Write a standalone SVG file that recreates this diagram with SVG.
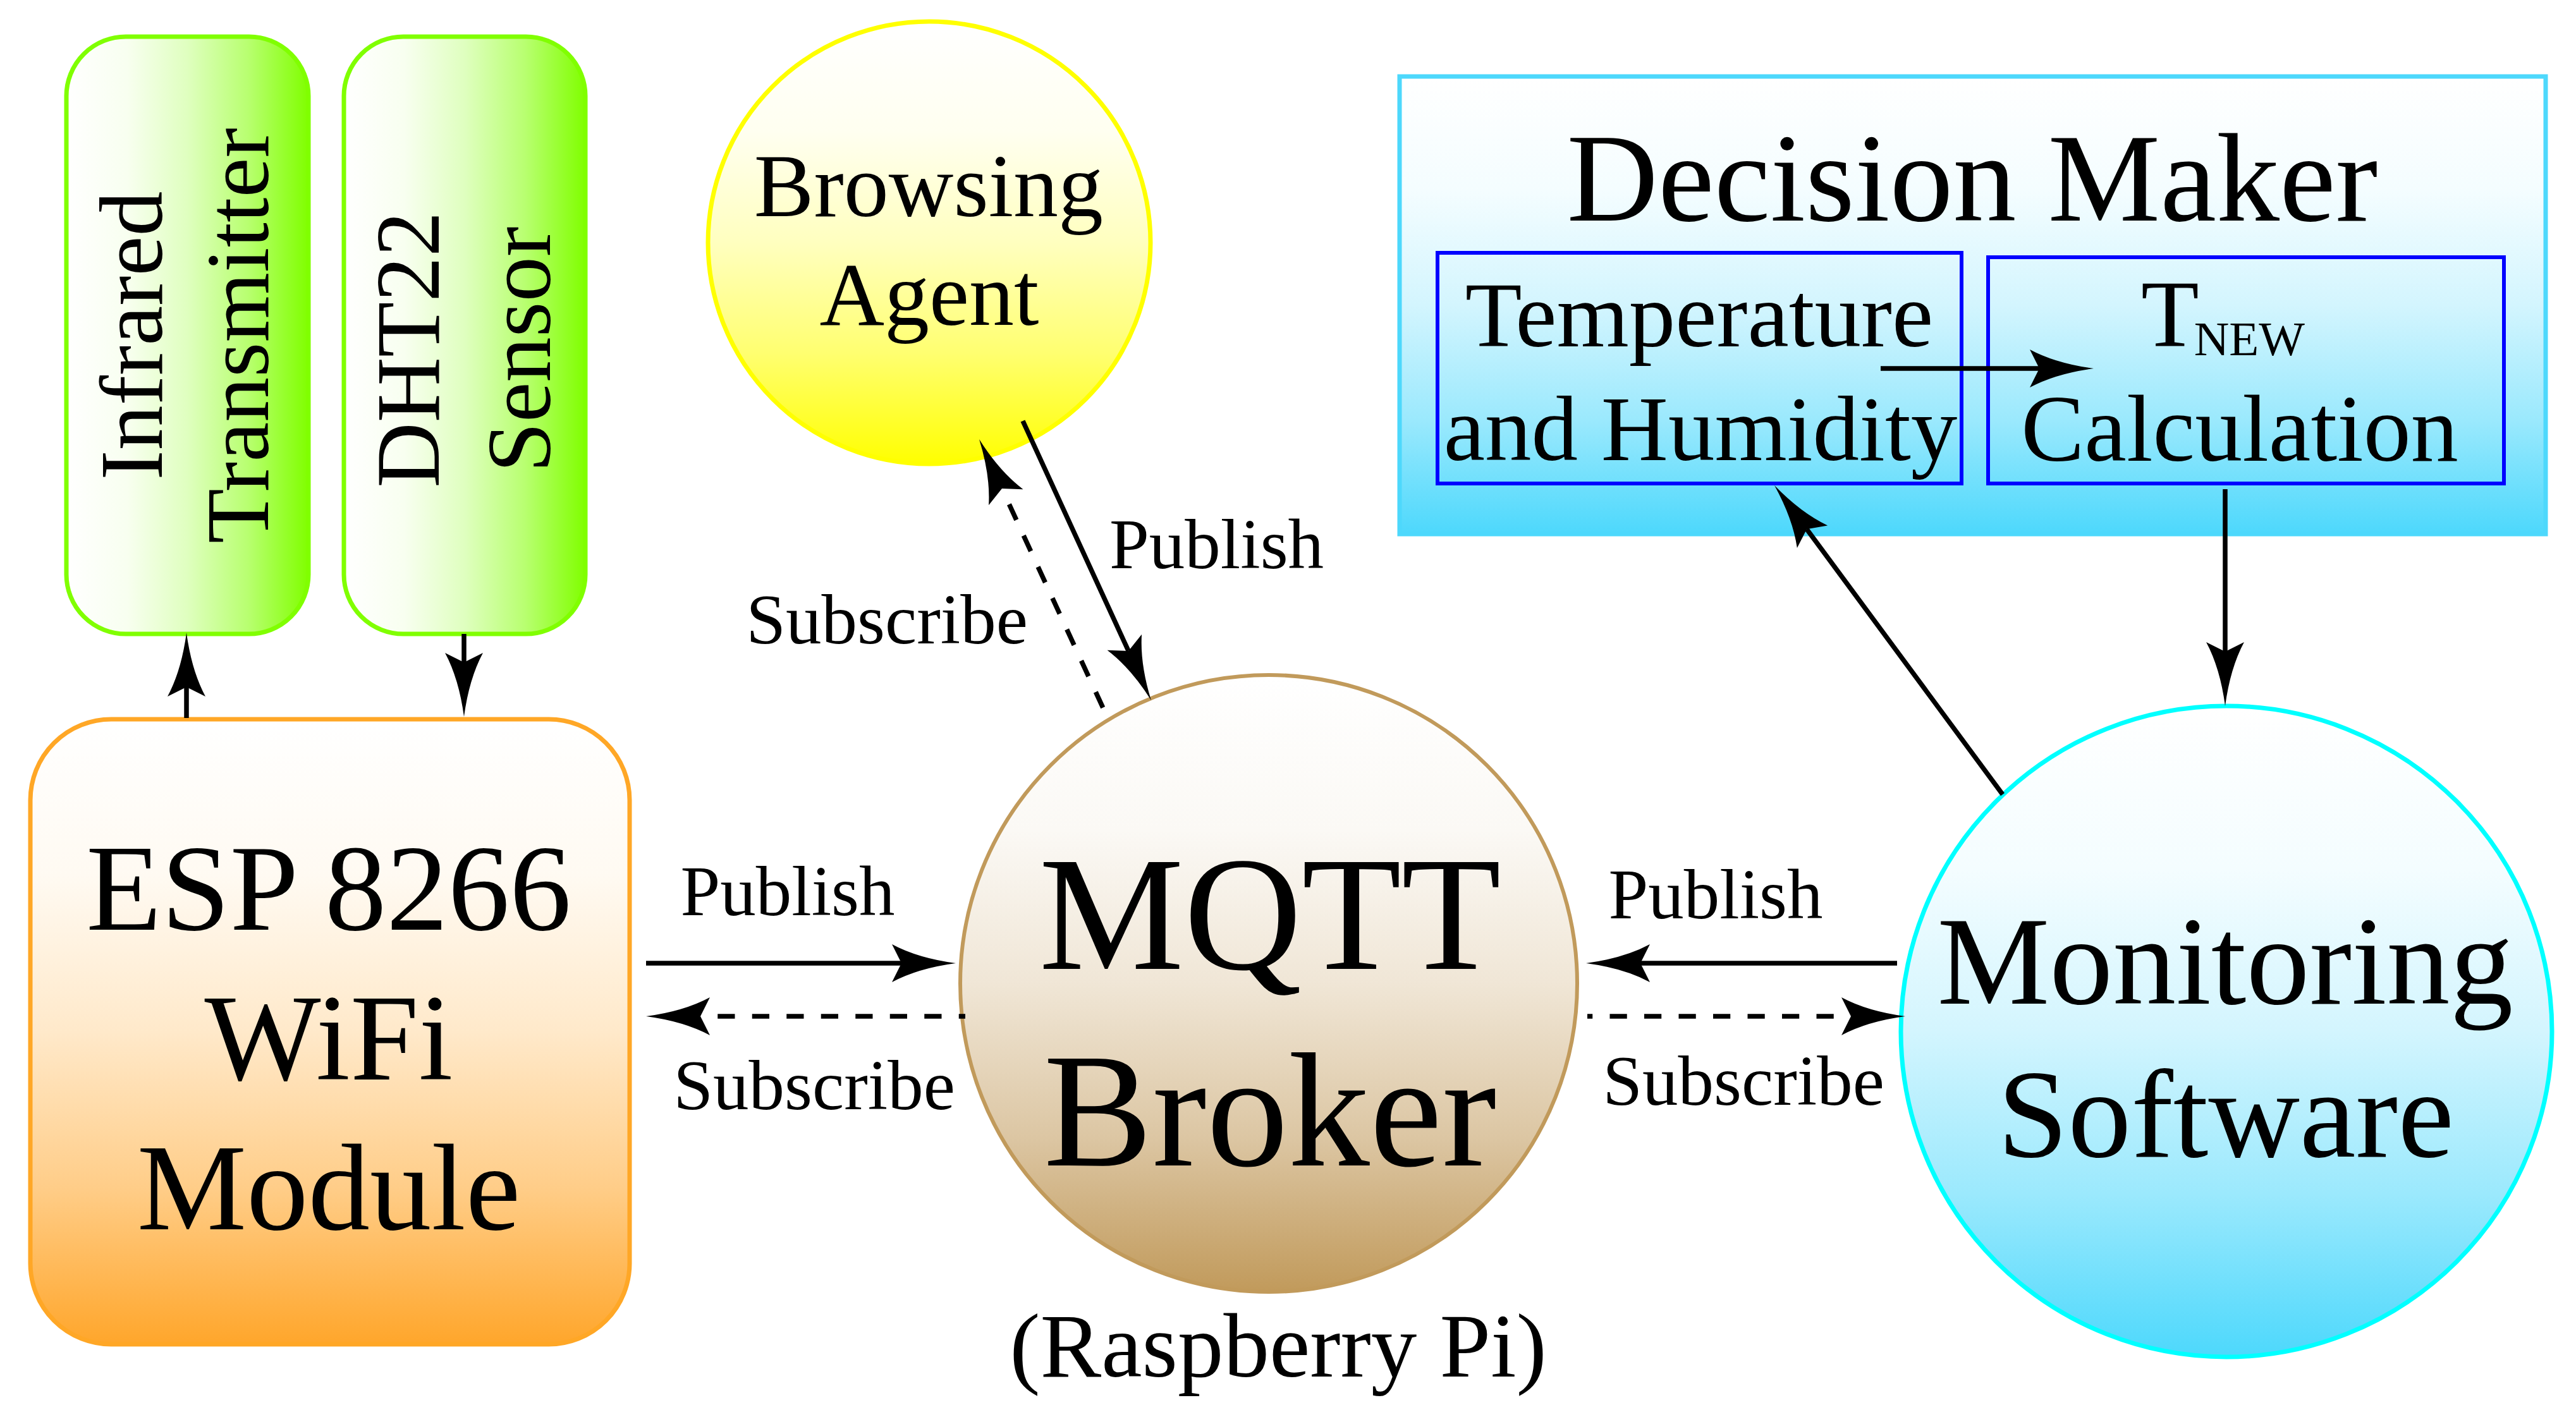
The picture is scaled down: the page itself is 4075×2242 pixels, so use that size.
<svg xmlns="http://www.w3.org/2000/svg" width="4075" height="2242" viewBox="0 0 4075 2242">
<style>
text { font-family: "Liberation Serif", "Times New Roman", serif; fill: #000; }
.c { text-anchor: middle; }
.lbl { font-size: 113px; }
.conn { fill: none; stroke: #000; stroke-width: 7.5; }
.dash { stroke-dasharray: 27.25 27.25; }
</style>
<defs>
<marker id="ah" markerUnits="userSpaceOnUse" markerWidth="120" markerHeight="80" viewBox="-20 -40 120 80" refX="0" refY="0" orient="auto" overflow="visible">
<path d="M86,0 Q26,-8 -15,-30 L0,0 L-15,30 Q26,8 86,0 Z" fill="#000" stroke="none"/>
</marker>
<linearGradient id="gGreen" x1="0" y1="0" x2="1" y2="0">
<stop offset="0" stop-color="#FFFFFF"/><stop offset="0.25" stop-color="#F8FFF0"/><stop offset="0.5" stop-color="#DFFFBF"/><stop offset="0.75" stop-color="#B8FF70"/><stop offset="1" stop-color="#80FF00"/>
</linearGradient>
<linearGradient id="gOrange" x1="0" y1="0" x2="0" y2="1">
<stop offset="0" stop-color="#FFFFFF"/><stop offset="0.25" stop-color="#FFFAF2"/><stop offset="0.5" stop-color="#FFE9CA"/><stop offset="0.75" stop-color="#FFCD88"/><stop offset="1" stop-color="#FFA62B"/>
</linearGradient>
<linearGradient id="gYellow" x1="0" y1="0" x2="0" y2="1">
<stop offset="0" stop-color="#FFFFFF"/><stop offset="0.25" stop-color="#FFFFF0"/><stop offset="0.5" stop-color="#FFFFBF"/><stop offset="0.75" stop-color="#FFFF70"/><stop offset="1" stop-color="#FFFF00"/>
</linearGradient>
<linearGradient id="gTan" x1="0" y1="0" x2="0" y2="1">
<stop offset="0" stop-color="#FFFFFF"/><stop offset="0.25" stop-color="#FBF9F5"/><stop offset="0.5" stop-color="#F0E6D6"/><stop offset="0.75" stop-color="#DCC6A3"/><stop offset="1" stop-color="#C19A5B"/>
</linearGradient>
<linearGradient id="gBlue" x1="0" y1="0" x2="0" y2="1">
<stop offset="0" stop-color="#FFFFFF"/><stop offset="0.25" stop-color="#F4FDFF"/><stop offset="0.5" stop-color="#D3F5FE"/><stop offset="0.75" stop-color="#9BE9FD"/><stop offset="1" stop-color="#4DD8FC"/>
</linearGradient>
</defs>

<g id="infrared">
<rect x="105" y="58" width="383" height="945" rx="94" ry="94" fill="url(#gGreen)" stroke="#80FF00" stroke-width="7"/>
<text class="c" font-size="142" transform="translate(296.5,531) rotate(-90)"><tspan x="0" y="-40.5">Infrared</tspan><tspan x="0" y="127.5">Transmitter</tspan></text>
</g>

<g id="dht22">
<rect x="544" y="58" width="382" height="945" rx="94" ry="94" fill="url(#gGreen)" stroke="#80FF00" stroke-width="7"/>
<text class="c" font-size="143" transform="translate(735,553) rotate(-90)"><tspan x="0" y="-41">DHT22</tspan><tspan x="0" y="135">Sensor</tspan></text>
</g>

<g id="esp8266">
<rect x="48" y="1138" width="948" height="989" rx="128" ry="128" fill="url(#gOrange)" stroke="#FFA726" stroke-width="7"/>
<text class="c" font-size="195"><tspan x="520" y="1471">ESP 8266</tspan><tspan x="520" y="1708">WiFi</tspan><tspan x="520" y="1945">Module</tspan></text>
</g>

<g id="browsing-agent">
<circle cx="1470" cy="384" r="350" fill="url(#gYellow)" stroke="#FFFF00" stroke-width="7"/>
<text class="c" font-size="142"><tspan x="1469" y="342">Browsing</tspan><tspan x="1470" y="514">Agent</tspan></text>
</g>

<g id="mqtt-broker">
<circle cx="2007" cy="1556" r="488" fill="url(#gTan)" stroke="#C19A5B" stroke-width="6"/>
<text class="c" font-size="258"><tspan x="2009" y="1533">MQTT</tspan><tspan x="2009" y="1844">Broker</tspan></text>
<text class="c" font-size="145" x="2022" y="2178">(Raspberry Pi)</text>
</g>

<g id="monitoring-software">
<circle cx="3522" cy="1632" r="515" fill="url(#gBlue)" stroke="#00FFFF" stroke-width="7"/>
<text class="c" font-size="200"><tspan x="3520" y="1588">Monitoring</tspan><tspan x="3521" y="1830">Software</tspan></text>
</g>

<g id="decision-maker">
<rect x="2214" y="121" width="1813" height="724" fill="url(#gBlue)" stroke="#4DD8FC" stroke-width="7"/>
<text class="c" font-size="200" x="3120" y="349">Decision Maker</text>
<g id="temperature-humidity">
<rect x="2274" y="400" width="829" height="365" fill="none" stroke="#0000FF" stroke-width="6"/>
<text class="c" font-size="147"><tspan x="2688" y="548">Temperature</tspan><tspan x="2690" y="728">and Humidity</tspan></text>
</g>
<g id="tnew-calculation">
<rect x="3145" y="407" width="816" height="358" fill="none" stroke="#0000FF" stroke-width="6"/>
<text font-size="150" x="3387" y="547">T<tspan font-size="77" dx="-8" dy="15">NEW</tspan></text>
<text class="c" font-size="150" x="3543" y="729">Calculation</text>
</g>
</g>

<g id="connectors">
<path class="conn" d="M295,1136 L295,1087" marker-end="url(#ah)"/>
<path class="conn" d="M734,1003 L734,1048" marker-end="url(#ah)"/>
<path class="conn" d="M1022,1524 L1426,1524" marker-end="url(#ah)"/>
<path class="conn dash" stroke-dashoffset="17" d="M1527,1608 L1108,1608" marker-end="url(#ah)"/>
<path class="conn" d="M3001,1524 L2595,1524" marker-end="url(#ah)"/>
<path class="conn dash" stroke-dashoffset="19" d="M2511,1608 L2928,1608" marker-end="url(#ah)"/>
<path class="conn" d="M1618,666 L1785.1,1029.9" marker-end="url(#ah)"/>
<path class="conn dash" stroke-dashoffset="41.9" d="M1750,1131 L1585,773.1" marker-end="url(#ah)"/>
<path class="conn" d="M2975,583 L3226,583" marker-end="url(#ah)"/>
<path class="conn" d="M3520,774 L3520,1031" marker-end="url(#ah)"/>
<path class="conn" d="M3168,1257 L2858.1,837.2" marker-end="url(#ah)"/>
</g>

<g id="labels">
<text class="c lbl" x="1246" y="1448">Publish</text>
<text class="c lbl" x="1288" y="1755">Subscribe</text>
<text class="c lbl" x="2714" y="1453">Publish</text>
<text class="c lbl" x="2758" y="1748">Subscribe</text>
<text class="lbl" x="1755" y="899">Publish</text>
<text class="c lbl" x="1403" y="1018">Subscribe</text>
</g>
</svg>
